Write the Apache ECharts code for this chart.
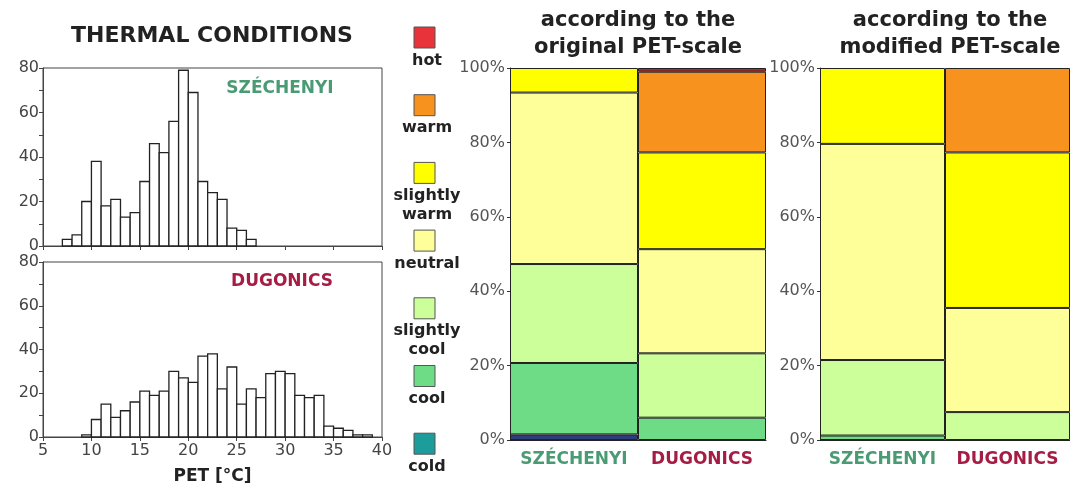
<!DOCTYPE html>
<html>
<head>
<meta charset="utf-8">
<script src="https://cdn.jsdelivr.net/npm/echarts@6/dist/echarts.min.js"></script>
<style>
html, body { margin: 0; padding: 0; background: #fff; }
#main { width: 1070px; height: 486px; }
</style>
</head>
<body>
<div id="main"></div>
<script>
// histogram bins (left edge, 1 °C wide) and counts
var binsSzechenyi = [7, 8, 9, 10, 11, 12, 13, 14, 15, 16, 17, 18, 19, 20, 21, 22, 23, 24, 25, 26];
var countsSzechenyi = [3, 5, 20, 38, 18, 21, 13, 15, 29, 46, 42, 56, 79, 69, 29, 24, 21, 8, 7, 3];
var binsDugonics = [9, 10, 11, 12, 13, 14, 15, 16, 17, 18, 19, 20, 21, 22, 23, 24, 25, 26, 27, 28, 29, 30, 31, 32, 33, 34, 35, 36, 37, 38];
var countsDugonics = [1, 8, 15, 9, 12, 16, 21, 19, 21, 30, 27, 25, 37, 38, 22, 32, 15, 22, 18, 29, 30, 29, 19, 18, 19, 5, 4, 3, 1, 1];

// thermal sensation classes, bottom to top
var classes = ['cold', 'cool', 'slightly cool', 'neutral', 'slightly warm', 'warm', 'hot'];
var sites = ['SZÉCHENYI', 'DUGONICS'];
// share of each class (%), original PET-scale
var origSzechenyi = [1.5, 19.2, 26.6, 46.1, 6.6, 0, 0];
var origDugonics = [0, 6.0, 17.3, 28.0, 26.0, 21.7, 1.0];
// share of each class (%), modified PET-scale
var modSzechenyi = [0, 1.2, 20.3, 58.1, 20.4, 0, 0];
var modDugonics = [0, 0, 7.5, 28.0, 41.8, 22.7, 0];

var legendColors = ['#1c9c9a', '#6edb86', '#ccff99', '#ffff99', '#ffff00', '#f7921e', '#e8333a'];
var barColors = ['#2d3c7c', '#6edb86', '#ccff99', '#ffff99', '#ffff00', '#f7921e', '#b02a2a'];

var FONT = 'DejaVu Sans';
var GREEN = '#4a9b74';
var RED = '#a51c44';

function toPairs(bins, counts) {
    return bins.map(function (b, i) { return [b, counts[i]]; });
}

// empty classes are left out so they don't leave a stray border line
function nz(v) { return v === 0 ? null : v; }

function histItem(params, api) {
    var x = api.value(0);
    var v = api.value(1);
    var p0 = api.coord([x, 0]);
    var p1 = api.coord([x + 1, v]);
    return {
        type: 'rect',
        shape: { x: p0[0], y: p1[1], width: p1[0] - p0[0], height: p0[1] - p1[1] },
        style: { fill: '#fff', stroke: '#222', lineWidth: 1.3 }
    };
}

function histY(gi) {
    return {
        gridIndex: gi, type: 'value', min: 0, max: 80, interval: 10,
        axisLine: { show: true, lineStyle: { color: '#444' } },
        axisTick: { show: true, length: 4, lineStyle: { color: '#444' } },
        splitLine: { show: false },
        axisLabel: {
            fontFamily: FONT, fontSize: 16, color: '#444', margin: 4,
            formatter: function (v) { return v % 20 === 0 ? String(v) : ''; }
        }
    };
}

function pctY(gi) {
    return {
        gridIndex: gi, type: 'value', min: 0, max: 100, interval: 20,
        axisLine: { show: true, lineStyle: { color: '#222' } },
        axisTick: { show: true, length: 3, lineStyle: { color: '#333' } },
        splitLine: { show: false },
        axisLabel: { fontFamily: FONT, fontSize: 16, color: '#555', margin: 5, formatter: '{value}%' }
    };
}

function siteX(gi) {
    return {
        gridIndex: gi, type: 'category', data: sites,
        axisLine: { show: true, lineStyle: { color: '#222' } },
        axisTick: { show: false },
        axisLabel: {
            margin: 11,
            formatter: function (v, i) { return i === 0 ? '{g|' + v + '}' : '{r|' + v + '}'; },
            rich: {
                g: { fontFamily: FONT, fontWeight: 'bold', fontSize: 17, color: GREEN },
                r: { fontFamily: FONT, fontWeight: 'bold', fontSize: 17, color: RED }
            }
        }
    };
}

var series = [
    { type: 'custom', xAxisIndex: 0, yAxisIndex: 0, renderItem: histItem, encode: { x: 0, y: 1 }, data: toPairs(binsSzechenyi, countsSzechenyi) },
    { type: 'custom', xAxisIndex: 1, yAxisIndex: 1, renderItem: histItem, encode: { x: 0, y: 1 }, data: toPairs(binsDugonics, countsDugonics) }
];

classes.forEach(function (c, i) {
    series.push({
        name: c, type: 'bar', stack: 'orig', xAxisIndex: 2, yAxisIndex: 2,
        barCategoryGap: '0%',
        itemStyle: { color: barColors[i], borderColor: '#222', borderWidth: 1 },
        data: [nz(origSzechenyi[i]), nz(origDugonics[i])]
    });
    series.push({
        name: c, type: 'bar', stack: 'mod', xAxisIndex: 3, yAxisIndex: 3,
        barCategoryGap: '0%',
        itemStyle: { color: barColors[i], borderColor: '#222', borderWidth: 1 },
        data: [nz(modSzechenyi[i]), nz(modDugonics[i])]
    });
});

// legend drawn as squares with labels underneath (hot at the top)
var legendLabels = ['cold', 'cool', 'slightly\ncool', 'neutral', 'slightly\nwarm', 'warm', 'hot'];
var graphics = [];
classes.forEach(function (c, idx) {
    var k = classes.length - 1 - idx;
    var sqTop = 27 + k * 67.7;
    graphics.push({
        type: 'rect', x: 414, y: sqTop,
        shape: { x: 0, y: 0, width: 21, height: 21 },
        style: { fill: legendColors[idx], stroke: '#555', lineWidth: 1 }
    });
    graphics.push({
        type: 'text', x: 427, y: sqTop + 24,
        style: {
            text: legendLabels[idx], fill: '#222', font: 'bold 16px ' + FONT,
            textAlign: 'center', textVerticalAlign: 'top', lineHeight: 19
        }
    });
});

graphics.push(
    { type: 'text', x: 212, y: 36, style: { text: 'THERMAL CONDITIONS', fill: '#222', font: 'bold 22px ' + FONT, textAlign: 'center', textVerticalAlign: 'middle' } },
    { type: 'text', x: 280, y: 89, style: { text: 'SZÉCHENYI', fill: GREEN, font: 'bold 17px ' + FONT, textAlign: 'center', textVerticalAlign: 'middle' } },
    { type: 'text', x: 282, y: 282, style: { text: 'DUGONICS', fill: RED, font: 'bold 17px ' + FONT, textAlign: 'center', textVerticalAlign: 'middle' } },
    { type: 'text', x: 638, y: 34, style: { text: 'according to the\noriginal PET-scale', fill: '#222', font: 'bold 21px ' + FONT, textAlign: 'center', textVerticalAlign: 'middle', lineHeight: 27 } },
    { type: 'text', x: 950, y: 34, style: { text: 'according to the\nmodified PET-scale', fill: '#222', font: 'bold 21px ' + FONT, textAlign: 'center', textVerticalAlign: 'middle', lineHeight: 27 } }
);

var option = {
    backgroundColor: '#fff',
    animation: false,
    grid: [
        { left: 43, top: 68, width: 339, height: 178, show: true, borderColor: '#444', borderWidth: 1, backgroundColor: 'transparent' },
        { left: 43, top: 262, width: 339, height: 177, show: true, borderColor: '#444', borderWidth: 1, backgroundColor: 'transparent' },
        { left: 510, top: 68, width: 256, height: 372 },
        { left: 820, top: 68, width: 256, height: 372 }
    ],
    xAxis: [
        {
            gridIndex: 0, type: 'value', min: 5, max: 40, interval: 5,
            axisLine: { show: true, lineStyle: { color: '#444' } },
            axisTick: { show: true, length: 4, lineStyle: { color: '#444' } },
            axisLabel: { show: false }, splitLine: { show: false }
        },
        {
            gridIndex: 1, type: 'value', min: 5, max: 40, interval: 5,
            axisLine: { show: true, lineStyle: { color: '#444' } },
            axisTick: { show: true, length: 4, lineStyle: { color: '#444' } },
            axisLabel: { fontFamily: FONT, fontSize: 16, color: '#444', margin: 6 },
            splitLine: { show: false },
            name: 'PET [°C]', nameLocation: 'middle', nameGap: 31,
            nameTextStyle: { fontFamily: FONT, fontWeight: 'bold', fontSize: 17, color: '#222' }
        },
        siteX(2),
        siteX(3)
    ],
    yAxis: [histY(0), histY(1), pctY(2), pctY(3)],
    series: series,
    graphic: graphics
};

echarts.init(document.getElementById('main')).setOption(option);
</script>
</body>
</html>
